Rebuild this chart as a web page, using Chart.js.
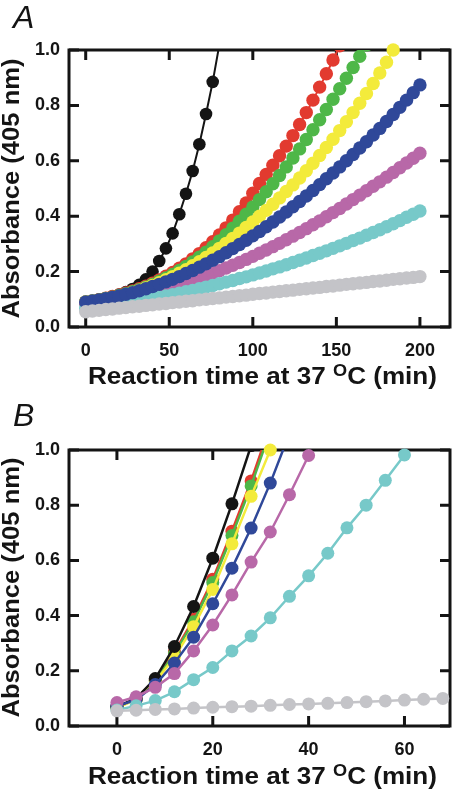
<!DOCTYPE html>
<html>
<head>
<meta charset="utf-8">
<script src="https://cdn.jsdelivr.net/npm/chart.js@4.4.1/dist/chart.umd.min.js"></script>
<style>
  html, body { margin: 0; padding: 0; background: #fff; }
  #wrap { position: relative; width: 456px; height: 792px; background: #fff; overflow: hidden; }
  canvas { position: absolute; left: 0; }
  .panel { position: absolute; font: italic 32px "Liberation Sans", Arial, sans-serif; line-height: 1; color: #141414; }
  .title { position: absolute; font: bold 23px "Liberation Sans", Arial, sans-serif; line-height: 1; color: #141414; white-space: nowrap; }
  .sup { font-size: 16px; position: relative; top: -8px; }
</style>
</head>
<body>
<div id="wrap">
  <canvas id="chartA" width="456" height="400" style="top:0"></canvas>
  <canvas id="chartB" width="456" height="392" style="top:400px"></canvas>
  <div class="panel" style="left:13px;top:1px">A</div>
  <div class="panel" style="left:13px;top:399px">B</div>
  <div class="title xt" id="xtA" style="left:88px;top:365px">Reaction time at 37 <span class="sup">O</span>C (min)</div>
  <div class="title xt" id="xtB" style="left:88px;top:765px">Reaction time at 37 <span class="sup">O</span>C (min)</div>
  <div class="title yt" id="ytA">Absorbance (405 nm)</div>
  <div class="title yt" id="ytB">Absorbance (405 nm)</div>
</div>
<script>
// ---- data: panel A (readings every 4 min) ----
const timeA = [0, 4, 8, 12, 16, 20, 24, 28, 32, 36, 40, 44, 48, 52, 56, 60, 64, 68, 72, 76, 80,
  84, 88, 92, 96, 100, 104, 108, 112, 116, 120, 124, 128, 132, 136, 140, 144, 148, 152, 156, 160,
  164, 168, 172, 176, 180, 184, 188, 192, 196, 200];
const blackA = [0.090, 0.094, 0.099, 0.104, 0.110, 0.117, 0.126, 0.137, 0.152, 0.172, 0.200, 0.238,
  0.284, 0.338, 0.407, 0.481, 0.563, 0.660, 0.769, 0.885, 1.020];
const redA = [0.090, 0.094, 0.099, 0.104, 0.110, 0.116, 0.123, 0.130, 0.138, 0.147, 0.158, 0.170,
  0.183, 0.197, 0.212, 0.228, 0.246, 0.265, 0.286, 0.308, 0.332, 0.358, 0.386, 0.416, 0.448, 0.483,
  0.518, 0.551, 0.584, 0.618, 0.653, 0.691, 0.731, 0.774, 0.819, 0.866, 0.914, 0.964, 1.015];
const greenA = [0.090, 0.094, 0.098, 0.103, 0.108, 0.114, 0.120, 0.127, 0.135, 0.144, 0.154, 0.165,
  0.177, 0.190, 0.204, 0.219, 0.235, 0.252, 0.270, 0.290, 0.311, 0.333, 0.357, 0.382, 0.407, 0.433,
  0.460, 0.488, 0.517, 0.547, 0.578, 0.610, 0.643, 0.677, 0.712, 0.748, 0.785, 0.822, 0.860, 0.898,
  0.937, 0.977, 1.018];
const yellowA = [0.090, 0.093, 0.096, 0.100, 0.104, 0.109, 0.116, 0.124, 0.132, 0.141, 0.150, 0.160,
  0.171, 0.182, 0.194, 0.207, 0.221, 0.236, 0.251, 0.267, 0.284, 0.302, 0.320, 0.339, 0.359, 0.379,
  0.400, 0.421, 0.443, 0.466, 0.489, 0.513, 0.538, 0.564, 0.591, 0.619, 0.648, 0.678, 0.709, 0.741,
  0.774, 0.808, 0.843, 0.879, 0.917, 0.956, 1.000];
const blueA = [0.090, 0.094, 0.098, 0.102, 0.107, 0.112, 0.118, 0.124, 0.131, 0.138, 0.146, 0.154,
  0.163, 0.172, 0.182, 0.193, 0.204, 0.216, 0.228, 0.241, 0.254, 0.268, 0.283, 0.298, 0.313, 0.329,
  0.345, 0.362, 0.379, 0.397, 0.415, 0.434, 0.453, 0.473, 0.493, 0.514, 0.535, 0.556, 0.578, 0.600,
  0.623, 0.646, 0.669, 0.693, 0.717, 0.742, 0.767, 0.793, 0.819, 0.846, 0.874];
const magentaA = [0.085, 0.088, 0.091, 0.095, 0.099, 0.103, 0.107, 0.112, 0.117, 0.122, 0.128, 0.134,
  0.140, 0.147, 0.154, 0.161, 0.169, 0.177, 0.185, 0.194, 0.203, 0.213, 0.223, 0.233, 0.244, 0.255,
  0.266, 0.278, 0.290, 0.302, 0.315, 0.328, 0.341, 0.355, 0.369, 0.383, 0.398, 0.413, 0.428, 0.444,
  0.460, 0.476, 0.492, 0.508, 0.524, 0.541, 0.558, 0.575, 0.592, 0.609, 0.627];
const cyanA = [0.068, 0.071, 0.074, 0.077, 0.080, 0.084, 0.087, 0.091, 0.095, 0.099, 0.103, 0.107,
  0.112, 0.117, 0.122, 0.127, 0.132, 0.138, 0.144, 0.150, 0.156, 0.162, 0.168, 0.175, 0.181, 0.188,
  0.195, 0.202, 0.210, 0.217, 0.225, 0.233, 0.241, 0.249, 0.258, 0.266, 0.275, 0.284, 0.293, 0.302,
  0.312, 0.321, 0.331, 0.341, 0.351, 0.362, 0.373, 0.384, 0.396, 0.407, 0.419];
const grayA = [0.055, 0.058, 0.060, 0.063, 0.065, 0.068, 0.070, 0.073, 0.075, 0.078, 0.080, 0.083,
  0.085, 0.088, 0.090, 0.093, 0.095, 0.098, 0.100, 0.103, 0.105, 0.108, 0.110, 0.113, 0.115, 0.118,
  0.121, 0.123, 0.126, 0.128, 0.131, 0.133, 0.136, 0.138, 0.141, 0.143, 0.146, 0.148, 0.151, 0.154,
  0.156, 0.159, 0.161, 0.164, 0.166, 0.169, 0.172, 0.174, 0.177, 0.179, 0.182];

// ---- data: panel B ----
const timeB = [0, 4, 8, 12, 16, 20, 24, 28, 32, 36, 40, 44, 48, 52, 56, 60, 64, 68];
const blackB = [0.070, 0.100, 0.172, 0.288, 0.433, 0.608, 0.805, 1.016];
const redB = [0.068, 0.098, 0.168, 0.268, 0.387, 0.532, 0.706, 0.888, 1.090];
const greenB = [0.068, 0.097, 0.165, 0.262, 0.378, 0.520, 0.690, 0.870, 1.070];
const yellowB = [0.066, 0.095, 0.160, 0.250, 0.360, 0.495, 0.660, 0.832, 1.000];
const blueB = [0.072, 0.095, 0.150, 0.228, 0.322, 0.443, 0.572, 0.717, 0.880, 1.060];
const magentaB = [0.085, 0.106, 0.140, 0.190, 0.272, 0.366, 0.475, 0.594, 0.703, 0.838, 0.980];
const cyanB = [0.058, 0.073, 0.092, 0.124, 0.168, 0.212, 0.272, 0.326, 0.392, 0.470, 0.544, 0.626,
  0.718, 0.800, 0.890, 0.982];
const grayB = [0.055, 0.057, 0.060, 0.062, 0.065, 0.068, 0.070, 0.072, 0.075, 0.078, 0.080, 0.082,
  0.085, 0.088, 0.091, 0.094, 0.097, 0.100];

// ---- tick labels ----
const xTicksA = [0, 50, 100, 150, 200];
const xTicksB = [0, 20, 40, 60];
const yTicks = [0, 0.2, 0.4, 0.6, 0.8, 1.0];

const INK = '#141414';
const COLORS = {
    black: '#141414',
    red: '#e23a2f',
    green: '#4eb748',
    yellow: '#f3eb3b',
    blue: '#2f4899',
    magenta: '#b868a8',
    cyan: '#77c9c9',
    gray: '#c4c4c8'
};
const TICK_LEN = 10;

Chart.defaults.font.family = '"Liberation Sans", Arial, sans-serif';

/**
 * Draws the boxed frame with inward tick marks on all four sides
 */
const frameTicks = {
    id: 'frameTicks',
    beforeDatasetsDraw(chart) {
        const { ctx, chartArea: a, scales: { x, y } } = chart;
        ctx.save();
        ctx.strokeStyle = INK;
        ctx.lineWidth = 3;
        ctx.beginPath();
        x.ticks.forEach(t => {
            const px = x.getPixelForValue(t.value);
            ctx.moveTo(px, a.bottom);
            ctx.lineTo(px, a.bottom - TICK_LEN);
            ctx.moveTo(px, a.top);
            ctx.lineTo(px, a.top + TICK_LEN);
        });
        y.ticks.forEach(t => {
            const py = y.getPixelForValue(t.value);
            ctx.moveTo(a.left, py);
            ctx.lineTo(a.left + TICK_LEN, py);
            ctx.moveTo(a.right, py);
            ctx.lineTo(a.right - TICK_LEN, py);
        });
        ctx.stroke();
        ctx.strokeRect(a.left, a.top, a.right - a.left, a.bottom - a.top);
        ctx.restore();
    }
};

/**
 * Builds one line dataset (points joined by a line)
 */
function series(times, values, color, order, radius, line) {
    const overTop = Math.max(...values) > 1;
    return {
        data: values.map((v, i) => ({ x: times[i], y: v })),
        borderColor: color,
        backgroundColor: color,
        pointBackgroundColor: color,
        pointBorderWidth: 0,
        pointRadius: radius,
        borderWidth: line,
        tension: 0,
        order: order,
        // values past 1.0 leave the frame at the top edge
        clip: overTop ? { left: false, top: 0, right: false, bottom: false } : false
    };
}

/**
 * Creates one panel chart
 */
function makePanel(canvas, datasets, xMin, xMax, xTicks, axisHeight, tickPad) {
    return new Chart(canvas.getContext('2d'), {
        type: 'line',
        data: { datasets },
        plugins: [frameTicks],
        options: {
            responsive: false,
            animation: false,
            events: [],
            layout: { autoPadding: false, padding: { top: 50, right: 6, bottom: 0, left: 0 } },
            plugins: { legend: { display: false }, tooltip: { enabled: false }, title: { display: false } },
            scales: {
                x: {
                    type: 'linear',
                    min: xMin,
                    max: xMax,
                    grid: { display: false, drawTicks: false },
                    border: { display: false },
                    afterBuildTicks: s => { s.ticks = xTicks.map(v => ({ value: v })); },
                    afterFit: s => { s.height = axisHeight; },
                    ticks: {
                        color: INK,
                        padding: tickPad,
                        maxRotation: 0,
                        font: { size: 18, weight: 'bold' },
                        callback: v => String(v)
                    }
                },
                y: {
                    min: 0,
                    max: 1,
                    grid: { display: false, drawTicks: false },
                    border: { display: false },
                    afterBuildTicks: s => { s.ticks = yTicks.map(v => ({ value: v })); },
                    afterFit: s => { s.width = 69; },
                    ticks: {
                        color: INK,
                        padding: 9,
                        font: { size: 18, weight: 'bold' },
                        callback: v => Number(v).toFixed(1)
                    }
                }
            }
        }
    });
}

const rA = 6.7, rB = 6.5;
makePanel(document.getElementById('chartA'), [
    series(timeA, grayA, COLORS.gray, 0, rA, 2),
    series(timeA, blueA, COLORS.blue, 1, rA, 2),
    series(timeA, cyanA, COLORS.cyan, 2, rA, 2),
    series(timeA, magentaA, COLORS.magenta, 3, rA, 2),
    series(timeA, yellowA, COLORS.yellow, 4, rA, 2),
    series(timeA, greenA, COLORS.green, 5, rA, 2),
    series(timeA, redA, COLORS.red, 6, rA, 2),
    series(timeA, blackA, COLORS.black, 7, 6.3, 2)
], -10, 218, xTicksA, 73, 13);

makePanel(document.getElementById('chartB'), [
    series(timeB, grayB, COLORS.gray, 0, rB, 2.5),
    series(timeB, cyanB, COLORS.cyan, 1, rB, 2.5),
    series(timeB, magentaB, COLORS.magenta, 2, rB, 2.5),
    series(timeB, blueB, COLORS.blue, 3, rB, 2.5),
    series(timeB, blackB, COLORS.black, 4, rB, 2.5),
    series(timeB, yellowB, COLORS.yellow, 5, rB, 2.5),
    series(timeB, greenB, COLORS.green, 6, rB, 2.5),
    series(timeB, redB, COLORS.red, 7, rB, 2.5)
], -10, 69.5, xTicksB, 66, 13);

// stretch the axis titles to the widths seen in the figure
document.querySelectorAll('.xt').forEach(el => {
    const w = el.getBoundingClientRect().width;
    el.style.transformOrigin = 'left top';
    el.style.transform = `scaleX(${349 / w})`;
});
[['ytA', 188], ['ytB', 587]].forEach(([id, cy]) => {
    const el = document.getElementById(id);
    const r = el.getBoundingClientRect();
    el.style.left = (12 - r.width / 2) + 'px';
    el.style.top = (cy - r.height / 2) + 'px';
    el.style.transformOrigin = 'center center';
    el.style.transform = `rotate(-90deg) scaleX(${260 / r.width})`;
});
</script>
</body>
</html>
